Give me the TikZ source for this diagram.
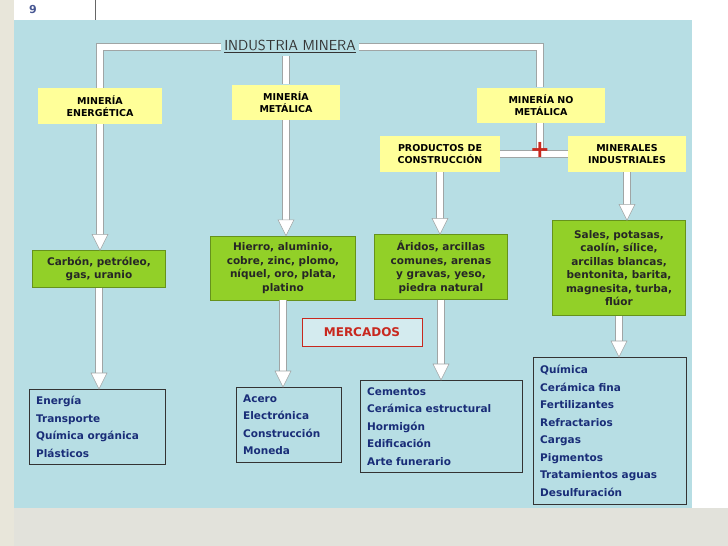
\documentclass[tikz,border=0pt]{standalone}
\usepackage{fontspec}
\setmainfont{DejaVu Sans}
\usepackage{tikz}
\usetikzlibrary{positioning, calc}
\definecolor{PanelBlue}{RGB}{183, 222, 228}
\definecolor{SideBeige}{RGB}{232, 230, 218}
\definecolor{FootGray}{RGB}{226, 226, 219}
\definecolor{BoxYellow}{RGB}{255, 255, 153}
\definecolor{BoxGreen}{RGB}{146, 208, 40}
\definecolor{TextNavy}{RGB}{25, 45, 120}
\definecolor{PipeEdge}{RGB}{160, 165, 165}
\definecolor{MarkRed}{RGB}{200, 40, 30}
\tikzset{
    % Category boxes (yellow)
    catbox/.style={
        fill=BoxYellow,
        align=center,
        font=\fontsize{9.5}{12}\selectfont\bfseries,
        inner sep=2pt
    },
    % Mineral boxes (green)
    minbox/.style={
        fill=BoxGreen,
        draw=BoxGreen!70!black,
        align=center,
        font=\fontsize{10.5}{13.5}\selectfont\bfseries,
        text=black!85,
        inner sep=2pt
    },
    % Market boxes (blue outline)
    mktbox/.style={
        draw=black!80,
        align=left,
        text=TextNavy,
        font=\fontsize{10.5}{17.5}\selectfont\bfseries,
        inner xsep=7pt,
        inner ysep=4pt,
        anchor=north west
    },
    % Tubes
    pipe/.style={
        draw=PipeEdge,
        double=white,
        double distance=6pt,
        line width=0.8pt
    },
    tiphead/.style={
        draw=PipeEdge,
        fill=white,
        line width=0.6pt
    }
}
\newcommand{\tubearrow}[2]{%
    \draw[pipe] (#1) -- ($(#1 |- #2)+(0,-14)$);
    \filldraw[tiphead] ($(#1 |- #2)+(-8,-16)$) -- (#1 |- #2) -- ($(#1 |- #2)+(8,-16)$) -- cycle;
}

\begin{document}
\begin{tikzpicture}[x=1pt, y=-1pt]

    % Background
    \useasboundingbox (0,0) rectangle (728,546);
    \fill[white] (0,0) rectangle (728,546);
    \fill[SideBeige] (0,0) rectangle (14,546);
    \fill[FootGray] (14,508) rectangle (728,546);
    \fill[PanelBlue] (14,20) rectangle (692,508);
    \node[text=TextNavy!80, font=\bfseries\fontsize{11}{12}\selectfont] (pagenum) at (33,10) {9};
    \draw[black!60, line width=1pt] (95,0) -- (95,20);

    % Title
    \node[font=\fontsize{14.5}{16}\selectfont\sffamily, text=black!80] (title) at (290,46) {\underline{INDUSTRIA MINERA}};

    % Category boxes
    \node[catbox, minimum width=124, minimum height=36] (ene) at (100,106) {MINERÍA\\ENERGÉTICA};
    \node[catbox, minimum width=108, minimum height=35] (met) at (286,102) {MINERÍA\\METÁLICA};
    \node[catbox, minimum width=128, minimum height=35] (nomet) at (541,105) {MINERÍA NO\\METÁLICA};
    \node[catbox, minimum width=120, minimum height=36] (cons) at (440,154) {PRODUCTOS DE\\CONSTRUCCIÓN};
    \node[catbox, minimum width=118, minimum height=36] (indu) at (627,154) {MINERALES\\INDUSTRIALES};

    % Top tubes
    \coordinate (tl) at (100,47);
    \coordinate (tr) at (540,47);
    \draw[pipe] (ene.north -| tl) -- (tl) -- (title.west |- tl);
    \draw[pipe] (title.east |- tr) -- (tr) -- (nomet.north -| tr);
    \draw[pipe] (title.south -| met.north) -- (met.north);
    \draw[pipe] (nomet.south -| tr) -- (tr |- cons.east);
    \draw[pipe] (cons.east) -- (indu.west);
    \node[text=MarkRed, font=\bfseries\fontsize{24}{24}\selectfont] (plus) at (540,150) {+};

    % Mineral boxes
    \node[minbox, minimum width=133, minimum height=37] (carb) at (99,269) {Carbón, petróleo,\\gas, uranio};
    \node[minbox, minimum width=145, minimum height=64] (hier) at (283,268) {Hierro, aluminio,\\cobre, zinc, plomo,\\níquel, oro, plata,\\platino};
    \node[minbox, minimum width=133, minimum height=65] (arid) at (441,267) {Áridos, arcillas\\comunes, arenas\\y gravas, yeso,\\piedra natural};
    \node[minbox, minimum width=133, minimum height=95] (sale) at (619,268) {Sales, potasas,\\caolín, sílice,\\arcillas blancas,\\bentonita, barita,\\magnesita, turba,\\flúor};

    \tubearrow{ene.south}{carb.north}
    \tubearrow{met.south}{hier.north}
    \tubearrow{cons.south}{arid.north}
    \tubearrow{indu.south}{sale.north}

    % Markets
    \node[draw=MarkRed, fill=PanelBlue!60!white, text=MarkRed, font=\bfseries\fontsize{12}{14}\selectfont, minimum width=120, minimum height=28] (merc) at (362,332) {MERCADOS};

    \node[mktbox, text width=122, minimum height=75] (m1) at (29,389) {Energía\\Transporte\\Química orgánica\\Plásticos};
    \node[mktbox, text width=91, minimum height=75] (m2) at (236,387) {Acero\\Electrónica\\Construcción\\Moneda};
    \node[mktbox, text width=148, minimum height=92] (m3) at (360,380) {Cementos\\Cerámica estructural\\Hormigón\\Edificación\\Arte funerario};
    \node[mktbox, text width=139, minimum height=147] (m4) at (533,357) {Química\\Cerámica fina\\Fertilizantes\\Refractarios\\Cargas\\Pigmentos\\Tratamientos aguas\\Desulfuración};

    \tubearrow{carb.south}{m1.north}
    \tubearrow{hier.south}{m2.north}
    \tubearrow{arid.south}{m3.north}
    \tubearrow{sale.south}{m4.north}

\end{tikzpicture}
\end{document}
